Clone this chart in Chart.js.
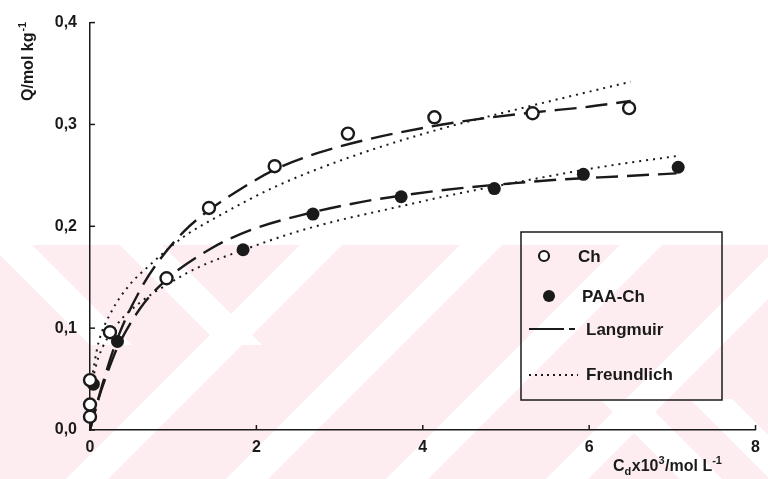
<!DOCTYPE html>
<html>
<head>
<meta charset="utf-8">
<script src="https://cdn.jsdelivr.net/npm/chart.js@4/dist/chart.umd.min.js"></script>
<style>
  html, body { margin: 0; padding: 0; background: #ffffff; }
  #wrap { width: 768px; height: 479px; position: relative; }
</style>
</head>
<body>
<div id="wrap"><canvas id="c" width="768" height="479"></canvas></div>
<script>
// ---- data ----
const xTicks = [0, 2, 4, 6, 8];
const yTicks = [0, 0.1, 0.2, 0.3, 0.4];

// measured points: Ch (open circles)
const chX = [0, 0, 0, 0.24, 0.92, 1.43, 2.22, 3.1, 4.14, 5.32, 6.48];
const chY = [0.013, 0.025, 0.049, 0.096, 0.149, 0.218, 0.259, 0.291, 0.307, 0.311, 0.316];

// measured points: PAA-Ch (filled circles)
const paaX = [0.04, 0.33, 1.84, 2.68, 3.74, 4.86, 5.93, 7.07];
const paaY = [0.045, 0.087, 0.177, 0.212, 0.229, 0.237, 0.251, 0.258];

// Langmuir curve, Ch
const lChX = [0, 0.15, 0.33, 0.6, 0.8, 1.13, 1.45, 1.74, 2.23, 2.74, 3.27, 4.1, 4.64, 5.35, 5.95, 6.5];
const lChY = [0, 0.045, 0.09, 0.137, 0.163, 0.195, 0.217, 0.233, 0.256, 0.272, 0.284, 0.298, 0.305, 0.312, 0.317, 0.323];

// Langmuir curve, PAA-Ch
const lPaaX = [0, 0.1, 0.2, 0.33, 0.6, 0.91, 1.45, 1.92, 2.54, 3.27, 3.9, 4.52, 5.05, 5.66, 6.36, 7.05];
const lPaaY = [0, 0.03, 0.054, 0.081, 0.119, 0.147, 0.178, 0.196, 0.211, 0.224, 0.232, 0.238, 0.242, 0.246, 0.249, 0.252];

// Freundlich curve, Ch
const fChX = [0.02, 0.1, 0.25, 0.46, 0.72, 1.13, 1.5, 2.23, 3.06, 4.1, 5.14, 6.5];
const fChY = [0.05, 0.085, 0.115, 0.141, 0.162, 0.19, 0.208, 0.239, 0.266, 0.293, 0.315, 0.342];

// Freundlich curve, PAA-Ch
const fPaaX = [0.03, 0.1, 0.33, 0.6, 0.91, 1.31, 1.85, 2.42, 2.9, 3.7, 4.3, 5.05, 6.05, 7.05];
const fPaaY = [0.049, 0.071, 0.104, 0.125, 0.142, 0.16, 0.177, 0.193, 0.204, 0.219, 0.23, 0.242, 0.257, 0.269];

const legendLabels = ['Ch', 'PAA-Ch', 'Langmuir', 'Freundlich'];

// ---- helpers ----
const pts = (xs, ys) => xs.map((x, i) => ({ x: x, y: ys[i] }));
const INK = '#1a1a1a';
const FONT = '"Liberation Sans", Arial, Helvetica, sans-serif';

// background watermark approximation (pale pink band with white diagonals)
const watermark = {
  id: 'watermark',
  beforeDraw(chart) {
    const ctx = chart.ctx;
    const top = 245, H = chart.height, W = chart.width;
    ctx.save();
    ctx.beginPath();
    ctx.rect(0, top, W, H - top);
    ctx.clip();
    ctx.fillStyle = '#fdedf0';
    ctx.fillRect(0, top, W, H - top);
    ctx.fillStyle = '#ffffff';
    const L = 400, w = 42;
    // "/" bands
    [300, 460, 620, 780].forEach(t => {
      ctx.beginPath();
      ctx.moveTo(t, top); ctx.lineTo(t + w, top);
      ctx.lineTo(t + w - L, top + L); ctx.lineTo(t - L, top + L);
      ctx.closePath(); ctx.fill();
    });
    // "\" bands
    [-10, 120].forEach(t => {
      ctx.beginPath();
      ctx.moveTo(t, top); ctx.lineTo(t + w, top);
      ctx.lineTo(t + w + 100, top + 100); ctx.lineTo(t + 100, top + 100);
      ctx.closePath(); ctx.fill();
    });
    [600, 690].forEach(t => {
      ctx.beginPath();
      ctx.moveTo(t, H - 80); ctx.lineTo(t + w, H - 80);
      ctx.lineTo(t + w + 80, H); ctx.lineTo(t + 80, H);
      ctx.closePath(); ctx.fill();
    });
    ctx.restore();
  }
};

// inward tick marks, axis titles, legend box
const decor = {
  id: 'decor',
  afterDraw(chart) {
    const ctx = chart.ctx;
    const xs = chart.scales.x, ys = chart.scales.y;
    const a = chart.chartArea;
    ctx.save();
    ctx.strokeStyle = INK;
    ctx.lineWidth = 1.5;
    // y ticks (pointing into the plot)
    yTicks.forEach(v => {
      const py = ys.getPixelForValue(v);
      ctx.beginPath(); ctx.moveTo(a.left, py); ctx.lineTo(a.left + 5, py); ctx.stroke();
    });
    // x ticks (pointing up)
    xTicks.forEach(v => {
      const px = xs.getPixelForValue(v);
      ctx.beginPath(); ctx.moveTo(px, a.bottom); ctx.lineTo(px, a.bottom - 5); ctx.stroke();
    });

    ctx.fillStyle = INK;
    ctx.textBaseline = 'alphabetic';
    ctx.textAlign = 'left';

    // y axis title (rotated)
    ctx.save();
    ctx.translate(33, 101);
    ctx.rotate(-Math.PI / 2);
    ctx.font = 'bold 16px ' + FONT;
    const t1 = 'Q/mol kg';
    ctx.fillText(t1, 0, 0);
    let w1 = ctx.measureText(t1).width;
    ctx.font = 'bold 11px ' + FONT;
    ctx.fillText('-1', w1 + 1, -7);
    ctx.restore();

    // x axis title with sub/superscripts
    let x = 613, base = 471;
    const big = 'bold 16px ' + FONT, small = 'bold 11px ' + FONT;
    const parts = [
      ['C', big, 0], ['d', small, 4], ['x10', big, 0], ['3', small, -7],
      ['/mol L', big, 0], ['-1', small, -7]
    ];
    parts.forEach(p => {
      ctx.font = p[1];
      ctx.fillText(p[0], x, base + p[2]);
      x += ctx.measureText(p[0]).width + (p[1] === small ? 0.5 : 0);
    });

    // legend
    ctx.lineWidth = 1.5;
    ctx.strokeRect(521, 232, 201, 168);
    ctx.font = 'bold 17px ' + FONT;
    ctx.textBaseline = 'middle';
    // Ch
    ctx.beginPath(); ctx.arc(544, 256, 5, 0, Math.PI * 2);
    ctx.lineWidth = 2.2; ctx.fillStyle = '#fff'; ctx.fill(); ctx.stroke();
    ctx.fillStyle = INK;
    ctx.fillText(legendLabels[0], 578, 257);
    // PAA-Ch
    ctx.beginPath(); ctx.arc(549, 296, 6, 0, Math.PI * 2); ctx.fill();
    ctx.fillText(legendLabels[1], 582, 297);
    // Langmuir
    ctx.lineWidth = 2;
    ctx.beginPath(); ctx.moveTo(529, 329); ctx.lineTo(564, 329); ctx.stroke();
    ctx.beginPath(); ctx.moveTo(569, 329); ctx.lineTo(575, 329); ctx.stroke();
    ctx.fillText(legendLabels[2], 586, 330);
    // Freundlich
    ctx.setLineDash([2, 4]);
    ctx.beginPath(); ctx.moveTo(529, 375); ctx.lineTo(578, 375); ctx.stroke();
    ctx.setLineDash([]);
    ctx.fillText(legendLabels[3], 586, 375);
    ctx.restore();
  }
};

const lineDs = (label, data, dash, width) => ({
  type: 'line', label: label, data: data,
  borderColor: INK, borderWidth: width, borderDash: dash,
  pointRadius: 0, fill: false, cubicInterpolationMode: 'monotone',
  clip: false, order: 2
});

new Chart(document.getElementById('c'), {
  type: 'scatter',
  data: {
    datasets: [
      lineDs('Langmuir Ch', pts(lChX, lChY), [22, 9], 2.4),
      lineDs('Langmuir PAA-Ch', pts(lPaaX, lPaaY), [22, 9], 2.4),
      lineDs('Freundlich Ch', pts(fChX, fChY), [2, 5], 2),
      lineDs('Freundlich PAA-Ch', pts(fPaaX, fPaaY), [2, 5], 2),
      {
        label: 'Ch', data: pts(chX, chY), showLine: false,
        pointRadius: 6, pointBorderWidth: 2.4, pointBackgroundColor: '#ffffff',
        pointBorderColor: INK, clip: false, order: 0
      },
      {
        label: 'PAA-Ch', data: pts(paaX, paaY), showLine: false,
        pointRadius: 6.5, pointBorderWidth: 0, pointBackgroundColor: INK,
        pointBorderColor: INK, clip: false, order: 1
      }
    ]
  },
  options: {
    responsive: false,
    animation: false,
    events: [],
    layout: { padding: { left: 0, right: 8, top: 15, bottom: 0 } },
    plugins: { legend: { display: false }, tooltip: { enabled: false } },
    scales: {
      x: {
        type: 'linear', min: 0, max: 8,
        afterFit: s => { s.height = 49; },
        afterBuildTicks: s => { s.ticks = xTicks.map(v => ({ value: v })); },
        grid: { display: false, drawTicks: false },
        border: { display: true, color: INK, width: 1.5 },
        ticks: {
          padding: 8, color: INK,
          font: { family: FONT, size: 16, weight: 'bold' },
          callback: v => String(v)
        }
      },
      y: {
        type: 'linear', min: 0, max: 0.4,
        afterFit: s => { s.width = 90; },
        afterBuildTicks: s => { s.ticks = yTicks.map(v => ({ value: v })); },
        grid: { display: false, drawTicks: false },
        border: { display: true, color: INK, width: 1.5 },
        ticks: {
          padding: 13, color: INK,
          font: { family: FONT, size: 16, weight: 'bold' },
          callback: v => v.toFixed(1).replace('.', ',')
        }
      }
    }
  },
  plugins: [watermark, decor]
});
</script>
</body>
</html>
